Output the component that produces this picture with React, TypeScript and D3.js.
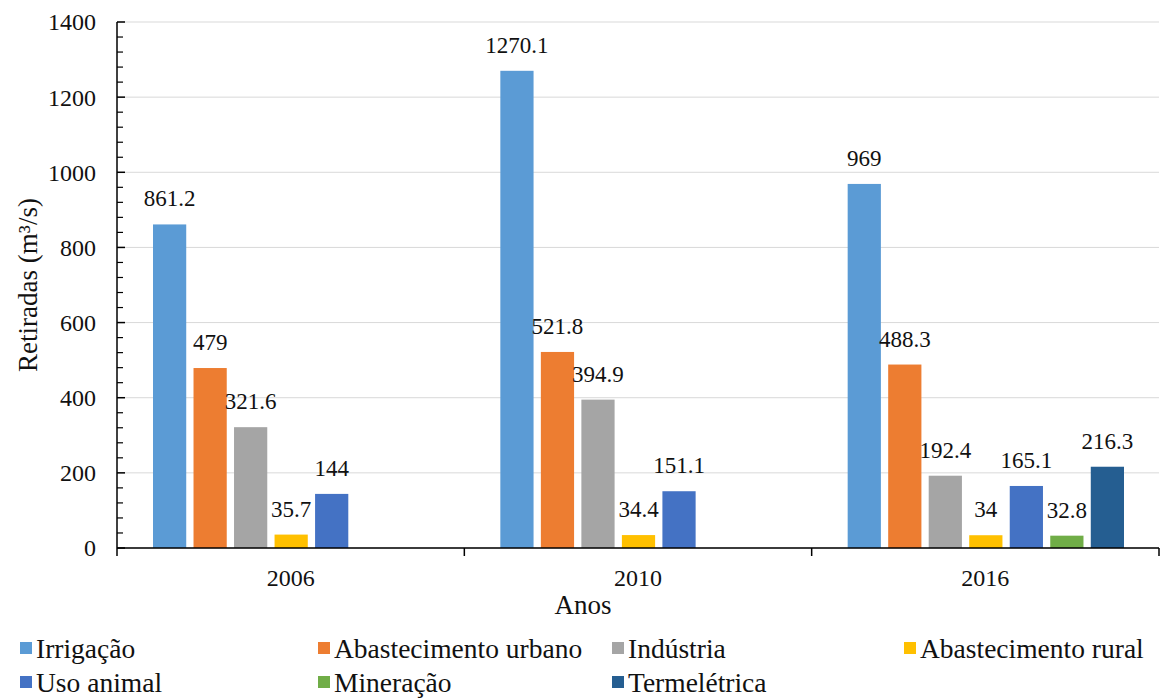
import React from "react";
import * as d3 from "d3";

const years = ["2006", "2010", "2016"];
const seriesNames = [
  "Irrigação",
  "Abastecimento urbano",
  "Indústria",
  "Abastecimento rural",
  "Uso animal",
  "Mineração",
  "Termelétrica",
];
const seriesColors = ["#5B9BD5", "#ED7D31", "#A5A5A5", "#FFC000", "#4472C4", "#70AD47", "#255E91"];
const irrigacao = [861.2, 1270.1, 969];
const abastUrbano = [479, 521.8, 488.3];
const industria = [321.6, 394.9, 192.4];
const abastRural = [35.7, 34.4, 34];
const usoAnimal = [144, 151.1, 165.1];
const mineracao: (number | null)[] = [null, null, 32.8];
const termeletrica: (number | null)[] = [null, null, 216.3];
const yTicks = [0, 200, 400, 600, 800, 1000, 1200, 1400];

const seriesValues = [irrigacao, abastUrbano, industria, abastRural, usoAnimal, mineracao, termeletrica];

const W = 1169;
const H = 698;
const left = 117;
const right = 1159;
const top = 22;
const bottom = 548;
const font = "Liberation Serif";

export default function App() {
  const x = d3.scaleBand<string>().domain(years).range([left, right]).padding(0);
  const gw = x.bandwidth();
  const inner = d3
    .scaleBand<string>()
    .domain(seriesNames)
    .range([36, gw - 35])
    .paddingInner(0.18)
    .paddingOuter(0);
  const y = d3.scaleLinear().domain([0, 1400]).range([bottom, top]);
  const minor = d3.range(0, 1400, 40).filter((v) => v % 200 !== 0);

  const legendCols = [20, 318, 612, 904];
  const legendRows = [648, 682];
  const ts: React.CSSProperties = { fontFamily: font };

  return (
    <svg width={W} height={H} style={{ position: "absolute", left: 0, top: 0, background: "#fff" }}>
      {yTicks.map((t) => (
        <line key={"g" + t} x1={left} x2={right} y1={y(t)} y2={y(t)} stroke="#D9D9D9" strokeWidth={1} />
      ))}
      {seriesValues.map((vals, si) =>
        vals.map((v, ci) =>
          v == null ? null : (
            <g key={si + "-" + ci}>
              <rect
                x={x(years[ci])! + inner(seriesNames[si])!}
                y={y(v)}
                width={inner.bandwidth()}
                height={y(0) - y(v)}
                fill={seriesColors[si]}
              />
              <text
                x={x(years[ci])! + inner(seriesNames[si])! + inner.bandwidth() / 2}
                y={y(v) - 18}
                textAnchor="middle"
                fontSize={23}
                fill="#111"
                style={ts}
              >
                {String(v)}
              </text>
            </g>
          )
        )
      )}
      <line x1={left} x2={left} y1={top} y2={bottom} stroke="#000" strokeWidth={1.5} />
      {yTicks.map((t) => (
        <g key={"t" + t}>
          <line x1={left} x2={left + 8} y1={y(t)} y2={y(t)} stroke="#000" strokeWidth={1.5} />
          <text x={96} y={y(t)} dy="0.35em" textAnchor="end" fontSize={24} fill="#111" style={ts}>
            {t}
          </text>
        </g>
      ))}
      {minor.map((t) => (
        <line key={"m" + t} x1={left} x2={left + 6} y1={y(t)} y2={y(t)} stroke="#000" strokeWidth={1.2} />
      ))}
      <line x1={left} x2={right} y1={bottom} y2={bottom} stroke="#000" strokeWidth={1.5} />
      {[...years.map((c) => x(c)!), right].map((px, i) => (
        <line key={"xt" + i} x1={px} x2={px} y1={bottom} y2={bottom + 8} stroke="#000" strokeWidth={1.5} />
      ))}
      {years.map((c) => (
        <text key={"xl" + c} x={x(c)! + gw / 2} y={586} textAnchor="middle" fontSize={24} fill="#111" style={ts}>
          {c}
        </text>
      ))}
      <text
        transform={`translate(28,${(top + bottom) / 2}) rotate(-90)`}
        textAnchor="middle"
        dy="0.35em"
        fontSize={27}
        fill="#111"
        style={ts}
      >
        Retiradas (m³/s)
      </text>
      <text x={583} y={605} dy="0.35em" textAnchor="middle" fontSize={27} fill="#111" style={ts}>
        Anos
      </text>
      {seriesNames.map((s, i) => {
        const col = legendCols[i % 4];
        const row = legendRows[Math.floor(i / 4)];
        return (
          <g key={"lg" + s}>
            <rect x={col} y={row - 6} width={12} height={12} fill={seriesColors[i]} />
            <text x={col + 16} y={row} dy="0.35em" fontSize={27.5} fill="#111" style={ts}>
              {s}
            </text>
          </g>
        );
      })}
    </svg>
  );
}
